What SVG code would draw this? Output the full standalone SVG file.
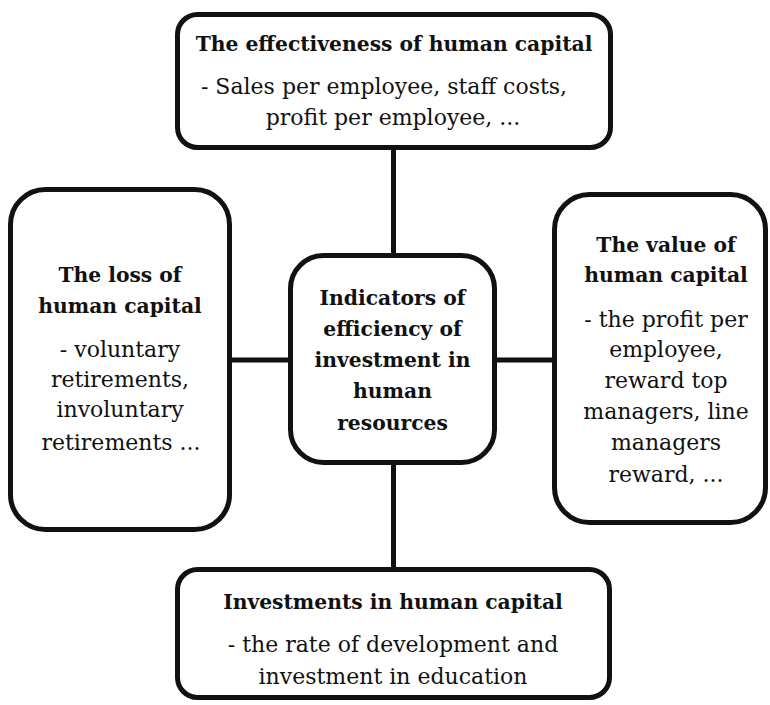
<svg xmlns="http://www.w3.org/2000/svg" width="770" height="705" viewBox="0 0 770 705">
<style>
.box{fill:#fff;stroke:#111;stroke-width:5}
.conn{stroke:#111;stroke-width:5;fill:none}
text{font-family:"DejaVu Serif","Liberation Serif",serif;fill:#111;text-anchor:middle}
.t{font-weight:bold;font-size:20.3px}
.b{font-size:22px}
</style>
<rect width="770" height="705" fill="#fff"/>
<g id="connectors">
<line class="conn" x1="393.5" y1="147" x2="393.5" y2="256"/>
<line class="conn" x1="393.5" y1="462" x2="393.5" y2="570"/>
<line class="conn" x1="229" y1="360" x2="291" y2="360"/>
<line class="conn" x1="494" y1="360" x2="555" y2="360"/>
</g>
<g id="top">
<rect class="box" x="177.5" y="14.5" width="433" height="133" rx="20"/>
<text class="t" x="394" y="51">The effectiveness of human capital</text>
<text class="b" x="384" y="94">- Sales per employee, staff costs,</text>
<text class="b" x="393" y="125">profit per employee, ...</text>
</g>
<g id="left">
<rect class="box" x="10.5" y="189.5" width="219" height="340" rx="35"/>
<text class="t" x="120" y="282">The loss of</text>
<text class="t" x="120" y="313">human capital</text>
<text class="b" x="120" y="357">- voluntary</text>
<text class="b" x="120" y="387">retirements,</text>
<text class="b" x="120" y="417">involuntary</text>
<text class="b" x="121" y="450">retirements ...</text>
</g>
<g id="center">
<rect class="box" x="290.5" y="255.5" width="204" height="207" rx="33"/>
<text class="t" x="392.5" y="305">Indicators of</text>
<text class="t" x="392.5" y="336">efficiency of</text>
<text class="t" x="392.5" y="367">investment in</text>
<text class="t" x="392.5" y="398">human</text>
<text class="t" x="392.5" y="430">resources</text>
</g>
<g id="right">
<rect class="box" x="554.5" y="194.5" width="211" height="328" rx="35"/>
<text class="t" x="666" y="252">The value of</text>
<text class="t" x="666" y="282">human capital</text>
<text class="b" x="666" y="327">- the profit per</text>
<text class="b" x="666" y="357">employee,</text>
<text class="b" x="666" y="388">reward top</text>
<text class="b" x="666" y="419">managers, line</text>
<text class="b" x="666" y="450">managers</text>
<text class="b" x="666" y="482">reward, ...</text>
</g>
<g id="bottom">
<rect class="box" x="177.5" y="569.5" width="432" height="128" rx="20"/>
<text class="t" x="393" y="609">Investments in human capital</text>
<text class="b" x="393" y="652">- the rate of development and</text>
<text class="b" x="393" y="684">investment in education</text>
</g>
</svg>
